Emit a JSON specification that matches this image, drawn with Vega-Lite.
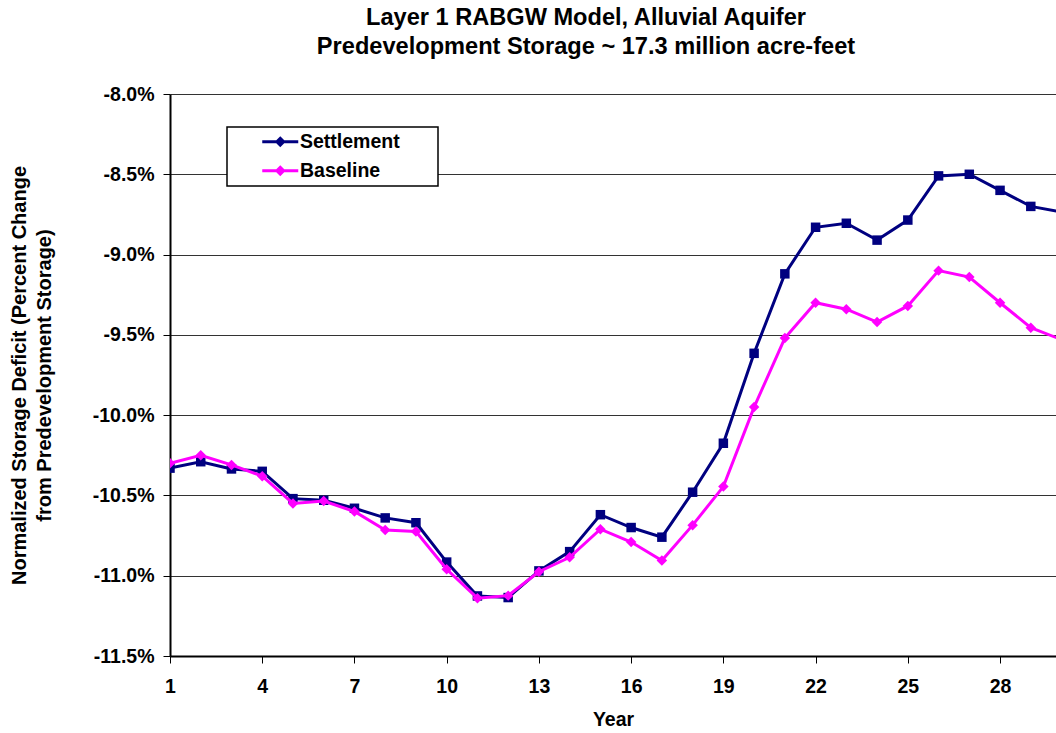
{
  "$schema": "https://vega.github.io/schema/vega-lite/v6.json",
  "width": 886,
  "height": 562,
  "autosize": {"type": "none"},
  "padding": {"left": 170, "top": 94, "right": 0, "bottom": 77},
  "background": "white",
  "config": {"view": {"stroke": null}, "font": "Liberation Sans"},
  "title": {
    "text": ["Layer 1 RABGW Model, Alluvial Aquifer", "Predevelopment Storage ~ 17.3 million acre-feet"],
    "font": "Liberation Sans",
    "fontSize": 23.6,
    "fontWeight": "bold",
    "color": "black",
    "lineHeight": 29,
    "anchor": "middle",
    "dx": -27,
    "offset": 25
  },
  "data": {
    "values": [
      {"year": 1, "series": "Settlement", "value": -10.33},
      {"year": 2, "series": "Settlement", "value": -10.29},
      {"year": 3, "series": "Settlement", "value": -10.335},
      {"year": 4, "series": "Settlement", "value": -10.35},
      {"year": 5, "series": "Settlement", "value": -10.52},
      {"year": 6, "series": "Settlement", "value": -10.53},
      {"year": 7, "series": "Settlement", "value": -10.58},
      {"year": 8, "series": "Settlement", "value": -10.64},
      {"year": 9, "series": "Settlement", "value": -10.67},
      {"year": 10, "series": "Settlement", "value": -10.915},
      {"year": 11, "series": "Settlement", "value": -11.126},
      {"year": 12, "series": "Settlement", "value": -11.136},
      {"year": 13, "series": "Settlement", "value": -10.97},
      {"year": 14, "series": "Settlement", "value": -10.85},
      {"year": 15, "series": "Settlement", "value": -10.62},
      {"year": 16, "series": "Settlement", "value": -10.7},
      {"year": 17, "series": "Settlement", "value": -10.76},
      {"year": 18, "series": "Settlement", "value": -10.48},
      {"year": 19, "series": "Settlement", "value": -10.175},
      {"year": 20, "series": "Settlement", "value": -9.615},
      {"year": 21, "series": "Settlement", "value": -9.12},
      {"year": 22, "series": "Settlement", "value": -8.83},
      {"year": 23, "series": "Settlement", "value": -8.805},
      {"year": 24, "series": "Settlement", "value": -8.91},
      {"year": 25, "series": "Settlement", "value": -8.785},
      {"year": 26, "series": "Settlement", "value": -8.51},
      {"year": 27, "series": "Settlement", "value": -8.5},
      {"year": 28, "series": "Settlement", "value": -8.6},
      {"year": 29, "series": "Settlement", "value": -8.7},
      {"year": 30, "series": "Settlement", "value": -8.735},
      {"year": 1, "series": "Baseline", "value": -10.3},
      {"year": 2, "series": "Baseline", "value": -10.25},
      {"year": 3, "series": "Baseline", "value": -10.31},
      {"year": 4, "series": "Baseline", "value": -10.38},
      {"year": 5, "series": "Baseline", "value": -10.55},
      {"year": 6, "series": "Baseline", "value": -10.535},
      {"year": 7, "series": "Baseline", "value": -10.6},
      {"year": 8, "series": "Baseline", "value": -10.715},
      {"year": 9, "series": "Baseline", "value": -10.725},
      {"year": 10, "series": "Baseline", "value": -10.96},
      {"year": 11, "series": "Baseline", "value": -11.14},
      {"year": 12, "series": "Baseline", "value": -11.124},
      {"year": 13, "series": "Baseline", "value": -10.975},
      {"year": 14, "series": "Baseline", "value": -10.885},
      {"year": 15, "series": "Baseline", "value": -10.71},
      {"year": 16, "series": "Baseline", "value": -10.79},
      {"year": 17, "series": "Baseline", "value": -10.905},
      {"year": 18, "series": "Baseline", "value": -10.685},
      {"year": 19, "series": "Baseline", "value": -10.445},
      {"year": 20, "series": "Baseline", "value": -9.95},
      {"year": 21, "series": "Baseline", "value": -9.52},
      {"year": 22, "series": "Baseline", "value": -9.3},
      {"year": 23, "series": "Baseline", "value": -9.34},
      {"year": 24, "series": "Baseline", "value": -9.42},
      {"year": 25, "series": "Baseline", "value": -9.32},
      {"year": 26, "series": "Baseline", "value": -9.1},
      {"year": 27, "series": "Baseline", "value": -9.14},
      {"year": 28, "series": "Baseline", "value": -9.3},
      {"year": 29, "series": "Baseline", "value": -9.455},
      {"year": 30, "series": "Baseline", "value": -9.53}
    ]
  },
  "encoding": {
    "x": {
      "field": "year",
      "type": "quantitative",
      "scale": {"domain": [1, 29.82], "nice": false, "zero": false},
      "axis": {
        "values": [1, 4, 7, 10, 13, 16, 19, 22, 25, 28],
        "format": "d",
        "title": "Year",
        "grid": false,
        "domainColor": "black",
        "domainWidth": 2,
        "tickColor": "black",
        "tickSize": 7,
        "tickWidth": 1,
        "labelFont": "Liberation Sans",
        "labelFontWeight": "bold",
        "labelFontSize": 19.5,
        "labelColor": "black",
        "labelPadding": 14,
        "labelAngle": 0,
        "labelFlush": false,
        "labelOverlap": false,
        "titleFont": "Liberation Sans",
        "titleFontWeight": "bold",
        "titleFontSize": 19.5,
        "titleColor": "black",
        "titlePadding": 15
      }
    },
    "y": {
      "field": "value",
      "type": "quantitative",
      "scale": {"domain": [-11.5, -8], "nice": false, "zero": false},
      "axis": {
        "values": [-11.5, -11, -10.5, -10, -9.5, -9, -8.5, -8],
        "labelExpr": "'-' + format(abs(datum.value), '.1f') + '%'",
        "title": ["Normalized Storage Deficit (Percent Change", "from Predevelopment Storage)"],
        "grid": true,
        "gridColor": "#333333",
        "gridWidth": 1,
        "domainColor": "black",
        "domainWidth": 2,
        "tickColor": "black",
        "tickSize": 7,
        "tickWidth": 1,
        "labelFont": "Liberation Sans",
        "labelFontWeight": "bold",
        "labelFontSize": 19.5,
        "labelColor": "black",
        "labelPadding": 9,
        "labelFlush": false,
        "labelOverlap": false,
        "titleFont": "Liberation Sans",
        "titleFontWeight": "bold",
        "titleFontSize": 20,
        "titleColor": "black",
        "titleLineHeight": 25,
        "titlePadding": 38
      }
    }
  },
  "layer": [
    {
      "transform": [{"filter": "datum.series === 'Settlement'"}],
      "mark": {"type": "line", "clip": true, "strokeWidth": 3},
      "encoding": {
        "color": {
          "field": "series",
          "type": "nominal",
          "scale": {"domain": ["Settlement", "Baseline"], "range": ["#000080", "#FF00FF"]},
          "legend": {
            "orient": "none",
            "legendX": 57,
            "legendY": 33,
            "title": null,
            "direction": "vertical",
            "padding": 5,
            "strokeColor": "black",
            "fillColor": "white",
            "cornerRadius": 0,
            "labelFont": "Liberation Sans",
            "labelFontWeight": "bold",
            "labelFontSize": 19.5,
            "labelColor": "black",
            "labelExpr": "datum.label + '\u00a0\u00a0\u00a0\u00a0\u00a0\u00a0\u200b'",
            "symbolType": "M-2.25,0H2.25M-0.33,-0.33H0.33V0.33H-0.33Z",
            "symbolSize": 256,
            "symbolStrokeWidth": 3,
            "symbolOffset": 38.5,
            "labelOffset": 10,
            "rowPadding": 8,
            "encode": {
              "legend": {"update": {"strokeWidth": {"value": 1.5}}},
              "symbols": {
                "update": {
                  "shape": {"condition": {"test": "datum.index === 0", "value": "M-2.25,0H2.25M-0.33,-0.33H0.33V0.33H-0.33Z"}, "value": "M-2.25,0H2.25M0,-0.42L0.42,0L0,0.42L-0.42,0Z"},
                  "fill": {"condition": {"test": "datum.index === 0", "value": "#000080"}, "value": "#FF00FF"}
                }
              }
            }
          }
        }
      }
    },
    {
      "transform": [{"filter": "datum.series === 'Settlement'"}],
      "mark": {"type": "point", "clip": true, "filled": true, "shape": "square", "size": 90, "opacity": 1, "color": "#000080"}
    },
    {
      "transform": [{"filter": "datum.series === 'Baseline'"}],
      "mark": {"type": "line", "clip": true, "strokeWidth": 3},
      "encoding": {
        "color": {
          "field": "series",
          "type": "nominal",
          "scale": {"domain": ["Settlement", "Baseline"], "range": ["#000080", "#FF00FF"]},
          "legend": {
            "orient": "none",
            "legendX": 57,
            "legendY": 33,
            "title": null,
            "direction": "vertical",
            "padding": 5,
            "strokeColor": "black",
            "fillColor": "white",
            "cornerRadius": 0,
            "labelFont": "Liberation Sans",
            "labelFontWeight": "bold",
            "labelFontSize": 19.5,
            "labelColor": "black",
            "labelExpr": "datum.label + '\u00a0\u00a0\u00a0\u00a0\u00a0\u00a0\u200b'",
            "symbolType": "M-2.25,0H2.25M-0.33,-0.33H0.33V0.33H-0.33Z",
            "symbolSize": 256,
            "symbolStrokeWidth": 3,
            "symbolOffset": 38.5,
            "labelOffset": 10,
            "rowPadding": 8,
            "encode": {
              "legend": {"update": {"strokeWidth": {"value": 1.5}}},
              "symbols": {
                "update": {
                  "shape": {"condition": {"test": "datum.index === 0", "value": "M-2.25,0H2.25M-0.33,-0.33H0.33V0.33H-0.33Z"}, "value": "M-2.25,0H2.25M0,-0.42L0.42,0L0,0.42L-0.42,0Z"},
                  "fill": {"condition": {"test": "datum.index === 0", "value": "#000080"}, "value": "#FF00FF"}
                }
              }
            }
          }
        }
      }
    },
    {
      "transform": [{"filter": "datum.series === 'Baseline'"}],
      "mark": {"type": "point", "clip": true, "filled": true, "shape": "diamond", "size": 110, "opacity": 1, "color": "#FF00FF"}
    }
  ]
}
